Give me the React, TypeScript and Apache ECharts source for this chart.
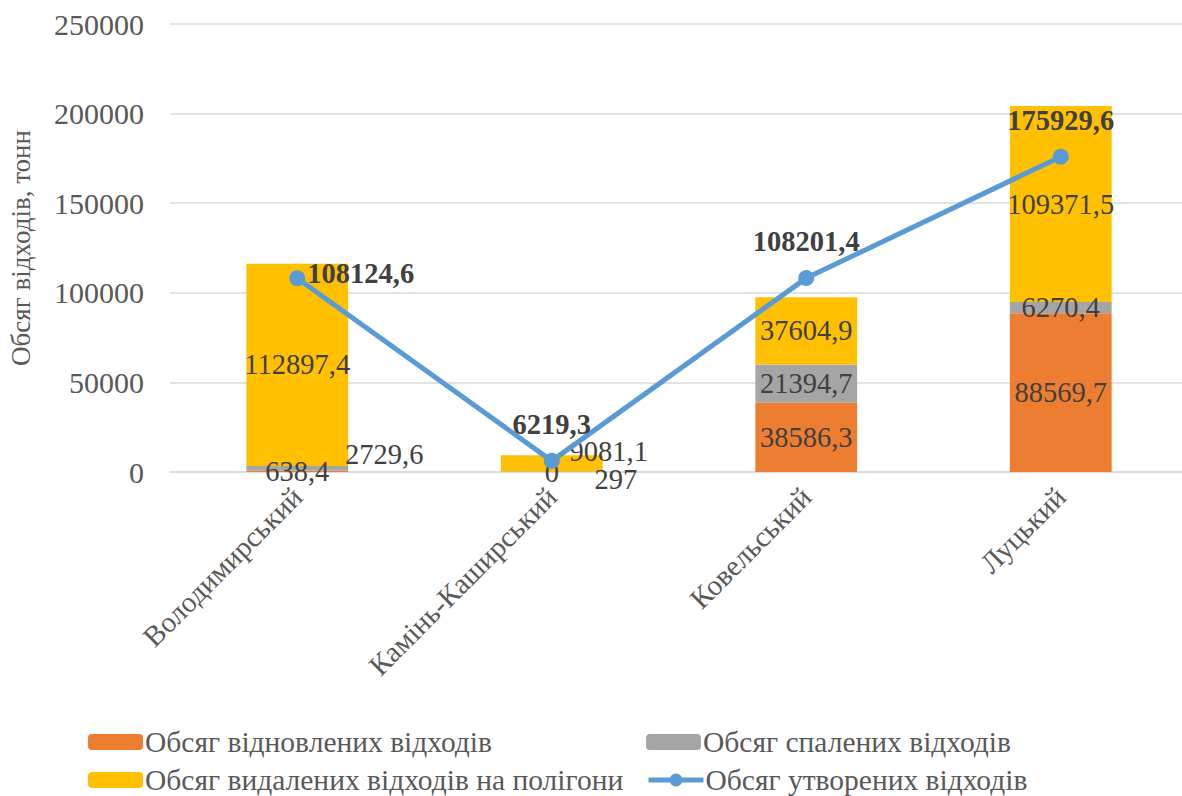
import React, { useEffect, useRef } from "react";
import * as echarts from "echarts";

const categories = ["Володимирський", "Камінь-Каширський", "Ковельський", "Луцький"];
const recovered = [638.4, 0, 38586.3, 88569.7];
const burned = [2729.6, 297, 21394.7, 6270.4];
const landfill = [112897.4, 9081.1, 37604.9, 109371.5];
const generated = [108124.6, 6219.3, 108201.4, 175929.6];
const seriesNames = [
  "Обсяг відновлених відходів",
  "Обсяг спалених відходів",
  "Обсяг видалених відходів на полігони",
  "Обсяг утворених відходів",
];
const yMin = 0;
const yMax = 250000;
const yInterval = 50000;

const FONT = "Liberation Serif";
const fmt = (v: number) => String(v).replace(".", ",");

export default function App() {
  const ref = useRef<HTMLDivElement>(null);
  useEffect(() => {
    document.body.style.margin = "0";
    const chart = echarts.init(ref.current!, null, { renderer: "svg" });
    const barLabel = {
      show: true,
      position: "inside",
      fontFamily: FONT,
      fontSize: 28.5,
      fontWeight: "normal",
      color: "#404040",
      formatter: (p: any) => fmt(p.value),
    };
    const burnedOffsets: Record<number, number[]> = { 0: [87, -14], 1: [64, 8] };
    const landfillOffsets: Record<number, number[]> = { 1: [57, -12] };
    const legendPos = [
      { left: 88, top: 727 },
      { left: 646, top: 727 },
      { left: 88, top: 765 },
      { left: 646, top: 765 },
    ];
    chart.setOption({
      animation: false,
      textStyle: { fontFamily: FONT },
      grid: { left: 170, right: -6, top: 24, bottom: 324, containLabel: false, outerBoundsMode: "none" },
      legend: seriesNames.map((n, i) => ({
        data: [n],
        left: legendPos[i].left,
        top: legendPos[i].top,
        padding: 0,
        itemWidth: 55,
        itemHeight: 16,
        itemGap: 0,
        lineStyle: { width: 5 },
        textStyle: { fontFamily: FONT, fontSize: 29.5, fontWeight: "normal", color: "#595959", padding: [0, 0, 0, -3] },
      })),
      xAxis: {
        type: "category",
        data: categories,
        axisTick: { show: false },
        axisLine: { lineStyle: { color: "#D9D9D9", width: 1.5 } },
        axisLabel: {
          rotate: 45,
          margin: 20,
          fontFamily: FONT,
          fontSize: 29,
          fontWeight: "normal",
          color: "#595959",
          interval: 0,
        },
      },
      yAxis: {
        type: "value",
        min: yMin,
        max: yMax,
        interval: yInterval,
        name: "Обсяг відходів, тонн",
        nameLocation: "middle",
        nameGap: 136,
        nameTextStyle: { fontFamily: FONT, fontSize: 27, fontWeight: "normal", color: "#595959" },
        axisLine: { show: false },
        axisTick: { show: false },
        splitLine: { lineStyle: { color: "#D9D9D9", width: 1.5 } },
        axisLabel: {
          margin: 26,
          fontFamily: FONT,
          fontSize: 30,
          fontWeight: "normal",
          color: "#595959",
          formatter: (v: number) => String(v),
        },
      },
      series: [
        {
          name: seriesNames[0],
          type: "bar",
          stack: "s",
          barWidth: "40%",
          itemStyle: { color: "#ED7D31" },
          label: barLabel,
          data: recovered,
        },
        {
          name: seriesNames[1],
          type: "bar",
          stack: "s",
          barWidth: "40%",
          itemStyle: { color: "#A5A5A5" },
          label: barLabel,
          data: burned.map((v, i) =>
            burnedOffsets[i] ? { value: v, label: { offset: burnedOffsets[i] } } : v
          ),
        },
        {
          name: seriesNames[2],
          type: "bar",
          stack: "s",
          barWidth: "40%",
          itemStyle: { color: "#FFC000" },
          label: barLabel,
          data: landfill.map((v, i) =>
            landfillOffsets[i] ? { value: v, label: { offset: landfillOffsets[i] } } : v
          ),
        },
        {
          name: seriesNames[3],
          type: "line",
          z: 5,
          symbol: "circle",
          symbolSize: 16,
          lineStyle: { color: "#5B9BD5", width: 5 },
          itemStyle: { color: "#5B9BD5" },
          label: {
            show: true,
            position: "top",
            distance: 14,
            fontFamily: FONT,
            fontSize: 28.5,
            fontWeight: "bold",
            color: "#404040",
            formatter: (p: any) => fmt(p.value),
          },
          data: generated.map((v, i) =>
            i === 0 ? { value: v, label: { position: "right", distance: 2, offset: [0, -5] } } : v
          ),
        },
      ],
    });
    return () => chart.dispose();
  }, []);
  return <div ref={ref} style={{ width: 1182, height: 796 }} />;
}
